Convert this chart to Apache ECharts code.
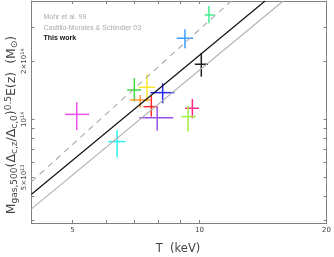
<!DOCTYPE html>
<html><head><meta charset="utf-8">
<script src="https://cdn.jsdelivr.net/npm/echarts@6/dist/echarts.min.js"></script>
<style>html,body{margin:0;padding:0;background:#fff}#c{width:334px;height:257px}</style>
</head><body><div id="c"></div>
<script>
// Cluster data (T in keV, M in solar masses)
const clusterColors = ['#f050f0','#30f0f0','#40d840','#f8e830','#ff9a30','#ff2a2a','#2a2aee','#9a50ea','#ff2a88','#a0ee40','#202020','#3a9cff','#40ee90'];
const temps  = [5.12, 6.38, 7.01, 7.51, 7.24, 7.69, 8.18, 7.94, 9.62, 9.40, 10.10, 9.24, 10.53];
const tempLo = [4.80, 6.08, 6.74, 7.18, 6.84, 7.37, 7.65, 7.20, 9.24, 9.07, 9.75, 8.83, 10.29];
const tempHi = [5.48, 6.68, 7.27, 7.85, 7.65, 7.95, 8.72, 8.67, 9.98, 9.80, 10.47, 9.66, 10.86];
const masses = [1.06e14, 0.766e14, 1.418e14, 1.465e14, 1.259e14, 1.162e14, 1.374e14, 1.019e14, 1.140e14, 1.032e14, 1.928e14, 2.629e14, 3.47e14];
const massLo = [0.88e14, 0.634e14, 1.234e14, 1.234e14, 1.148e14, 1.032e14, 1.210e14, 0.873e14, 1.012e14, 0.863e14, 1.663e14, 2.333e14, 3.145e14];
const massHi = [1.225e14, 0.88e14, 1.631e14, 1.711e14, 1.336e14, 1.320e14, 1.537e14, 1.162e14, 1.274e14, 1.172e14, 2.198e14, 2.926e14, 3.864e14];

// Relations (endpoints of power-law lines)
const mohrT = [4, 11.88];   const mohrM = [4.75e13, 4.10e14];
const cmsT  = [4, 15.79];   const cmsM  = [3.43e13, 4.10e14];
const thisT = [4, 14.30];   const thisM = [4.09e13, 4.10e14];

// Axis ticks / labels
const xTicks = [5, 6, 7, 8, 9, 10, 20];
const xLabels = [5, 10, 20];
const yTicks = [3e13, 4e13, 5e13, 6e13, 7e13, 8e13, 9e13, 1e14, 2e14, 3e14];
const yLabels = [5e13, 1e14, 2e14];
const legendNames = ['Mohr et al. 99', 'Castillo-Morales & Schindler 03', 'This work'];

const xMin = 4, xMax = 20, yMin = 2.9e13, yMax = 4.1e14;

const chart = echarts.init(document.getElementById('c'), null, {renderer: 'canvas'});
const axisCol = '#808080';
const textCol = '#444';
function yFmt(v) {
  const e = Math.floor(Math.log10(v) + 1e-9);
  const m = Math.round(v / Math.pow(10, e));
  return (m === 1 ? '' : m + '\u00d7') + '10{sup|' + e + '}';
}
const baseX = {
  type: 'log', min: xMin, max: xMax,
  axisLine: {show: true, lineStyle: {color: axisCol, width: 1}},
  splitLine: {show: false},
};
const baseY = {
  type: 'log', min: yMin, max: yMax,
  axisLine: {show: true, lineStyle: {color: axisCol, width: 1}},
  splitLine: {show: false},
};
const lineData = (T, M) => T.map((t, i) => [t, M[i]]);
const option = {
  animation: false,
  grid: {left: 31.5, top: 1, width: 298.5, height: 222, containLabel: false},
  xAxis: [
    Object.assign({}, baseX, {position: 'bottom',
      axisTick: {show: true, inside: true, length: 3, customValues: xTicks, lineStyle: {color: axisCol}},
      axisLabel: {show: true, customValues: xLabels, fontSize: 7, color: textCol, margin: 4, fontFamily: 'DejaVu Sans'}}),
    Object.assign({}, baseX, {position: 'top',
      axisTick: {show: true, inside: true, length: 3, customValues: xTicks, lineStyle: {color: axisCol}},
      axisLabel: {show: false}})
  ],
  yAxis: [
    Object.assign({}, baseY, {position: 'left',
      axisTick: {show: true, inside: true, length: 3, customValues: yTicks, lineStyle: {color: axisCol}},
      axisLabel: {show: true, customValues: yLabels, rotate: 90, margin: 3, fontSize: 7, color: textCol,
        fontFamily: 'DejaVu Sans', formatter: yFmt,
        rich: {sup: {fontSize: 5, verticalAlign: 'top', padding: [0,0,3,0], color: textCol, fontFamily: 'DejaVu Sans'}}}}),
    Object.assign({}, baseY, {position: 'right',
      axisTick: {show: true, inside: true, length: 3, customValues: yTicks, lineStyle: {color: axisCol}},
      axisLabel: {show: false}})
  ],
  graphic: [
    {type: 'text', x: 178, y: 249, style: {text: 'T  (keV)', font: '11.5px "DejaVu Sans"', fill: textCol, textAlign: 'center', textVerticalAlign: 'middle'}},
    {type: 'text', x: 12, y: 125, rotation: Math.PI / 2,
      style: {text: 'M{sub|gas,500}(Δ{sub|c,z}/Δ{sub|c,0}){sup|0.5}E(z)  (M{sub|⊙})',
        font: '12.5px "DejaVu Sans"', fill: textCol, textAlign: 'center', textVerticalAlign: 'middle',
        rich: {sub: {fontSize: 9, fontFamily: 'DejaVu Sans', padding: [5,0,0,0], fill: textCol},
               sup: {fontSize: 9, fontFamily: 'DejaVu Sans', padding: [0,0,6,0], fill: textCol}}}},
    {type: 'text', x: 43.5, y: 16.7, style: {text: legendNames[0], font: '7px "Liberation Sans"', fill: '#aaaaaa', textVerticalAlign: 'middle'}},
    {type: 'text', x: 43.5, y: 28.3, style: {text: legendNames[1], font: '7px "Liberation Sans"', fill: '#aaaaaa', textVerticalAlign: 'middle'}},
    {type: 'text', x: 43.5, y: 38.3, style: {text: legendNames[2], font: 'bold 7px "Liberation Sans"', fill: '#111', textVerticalAlign: 'middle'}}
  ],
  series: [
    {type: 'line', name: legendNames[0], data: lineData(mohrT, mohrM), showSymbol: false, clip: true,
      lineStyle: {color: '#aaaaaa', width: 1.1, type: [6, 5]}},
    {type: 'line', name: legendNames[1], data: lineData(cmsT, cmsM), showSymbol: false, clip: true,
      lineStyle: {color: '#b0b0b0', width: 1.1}},
    {type: 'line', name: legendNames[2], data: lineData(thisT, thisM), showSymbol: false, clip: true,
      lineStyle: {color: '#111', width: 1.2}},
    {type: 'custom', clip: true,
      data: temps.map((t, i) => [t, masses[i], tempLo[i], tempHi[i], massLo[i], massHi[i]]),
      renderItem: function (params, api) {
        const i = params.dataIndex;
        const col = clusterColors[i];
        const l = api.coord([api.value(2), api.value(1)]);
        const r = api.coord([api.value(3), api.value(1)]);
        const b = api.coord([api.value(0), api.value(4)]);
        const t = api.coord([api.value(0), api.value(5)]);
        return {type: 'group', children: [
          {type: 'line', shape: {x1: l[0], y1: l[1], x2: r[0], y2: r[1]}, style: {stroke: col, lineWidth: 1.5}},
          {type: 'line', shape: {x1: b[0], y1: b[1], x2: t[0], y2: t[1]}, style: {stroke: col, lineWidth: 1.5}}
        ]};
      }}
  ]
};
chart.setOption(option);
</script>
</body></html>
